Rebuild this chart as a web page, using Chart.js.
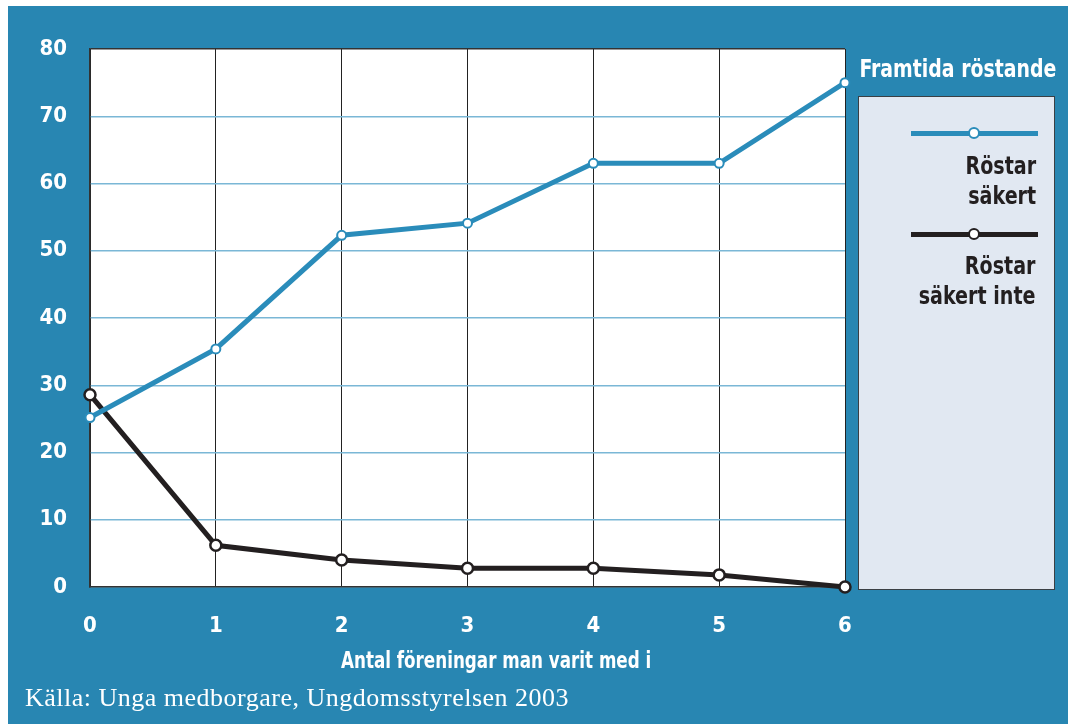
<!DOCTYPE html>
<html>
<head>
<meta charset="utf-8">
<script src="https://cdn.jsdelivr.net/npm/chart.js@4"></script>
<style>
  body { margin: 0; background: #fff; width: 1068px; height: 724px; overflow: hidden; position: relative; }
  #frame { position: absolute; left: 8px; top: 6px; right: 0; bottom: 0; background: #2886b2; }
  #canvas { position: absolute; left: 0; top: 0; }
  .cond { font-family: "DejaVu Sans Condensed", "Liberation Sans", sans-serif; font-weight: bold; white-space: nowrap; }
  #legend-title { position: absolute; right: 12px; top: 54px; color: #fff; font-size: 25px; transform: scaleX(0.84); transform-origin: right center; }
  #legend-box { position: absolute; left: 858px; top: 96px; width: 195px; height: 492px; background: #e1e8f2; border: 1.5px solid #3a3f44; }
  .sample { position: absolute; left: 52px; width: 127px; height: 5px; }
  .sample i { position: absolute; left: 57px; top: -4px; width: 8px; height: 8px; border-radius: 50%; background: #fff; border: 2px solid; }
  .ltext { position: absolute; right: 18px; text-align: right; color: #231f20; font-size: 25px; line-height: 30px; transform: scaleX(0.85); transform-origin: right center; }
  #xtitle { position: absolute; left: 341px; top: 647px; color: #fff; font-size: 23px; transform: scaleX(0.81); transform-origin: left center; }
  #source { position: absolute; left: 25px; top: 683px; color: #fff; font-family: "Liberation Serif", "DejaVu Serif", serif; font-size: 26px; letter-spacing: 0.5px; }
</style>
</head>
<body>
<div id="frame"></div>
<canvas id="canvas" width="1068" height="724"></canvas>
<div id="legend-title" class="cond">Framtida röstande</div>
<div id="legend-box">
  <div class="sample" style="top:34px;background:#2a8cba"><i style="border-color:#2a8cba"></i></div>
  <div class="ltext cond" style="top:54px">Röstar<br>säkert</div>
  <div class="sample" style="top:135px;background:#231f20"><i style="border-color:#231f20"></i></div>
  <div class="ltext cond" style="top:154px">Röstar<br>säkert inte</div>
</div>
<div id="xtitle" class="cond">Antal föreningar man varit med i</div>
<div id="source">Källa: Unga medborgare, Ungdomsstyrelsen 2003</div>
<script>
const foreningar = ["0", "1", "2", "3", "4", "5", "6"]
const rostarSakert = [25.2, 35.4, 52.3, 54.1, 63, 63, 75]
const rostarSakertInte = [28.6, 6.2, 4.0, 2.8, 2.8, 1.8, 0]
const yTicks = [0, 10, 20, 30, 40, 50, 60, 70, 80]

const BLUE = "#2a8cba"
const BLACK = "#231f20"
const tickFont = { family: '"DejaVu Sans Condensed", "Liberation Sans", sans-serif', weight: "bold", size: 22 }

const plotBg = {
  id: "plotBg",
  beforeDraw(chart) {
    const { ctx, chartArea: a } = chart
    ctx.save()
    ctx.fillStyle = "#fff"
    ctx.fillRect(a.left, a.top, a.right - a.left, a.bottom - a.top)
    ctx.restore()
  }
}

const canvas = document.getElementById("canvas")
new Chart(canvas, {
  type: "line",
  data: {
    labels: foreningar,
    datasets: [
      {
        label: "Röstar säkert",
        data: rostarSakert,
        borderColor: BLUE,
        borderWidth: 5,
        pointBackgroundColor: "#fff",
        pointBorderColor: BLUE,
        pointBorderWidth: 2,
        pointRadius: 4.5,
        clip: false
      },
      {
        label: "Röstar säkert inte",
        data: rostarSakertInte,
        borderColor: BLACK,
        borderWidth: 5,
        pointBackgroundColor: "#fff",
        pointBorderColor: BLACK,
        pointBorderWidth: 2.5,
        pointRadius: 5.5,
        clip: false
      }
    ]
  },
  options: {
    responsive: false,
    animation: false,
    devicePixelRatio: 1,
    layout: { padding: { top: 49, right: 223, left: 0, bottom: 0 } },
    plugins: {
      legend: { display: false },
      tooltip: { enabled: false }
    },
    scales: {
      x: {
        afterFit: scale => { scale.height = 137 },
        grid: { color: "#222", lineWidth: 1, drawTicks: false },
        border: { color: "#333", width: 1.5 },
        ticks: { color: "#fff", font: tickFont, padding: 26, maxRotation: 0 }
      },
      y: {
        min: 0,
        max: 80,
        afterFit: scale => { scale.width = 90 },
        afterBuildTicks: scale => { scale.ticks = yTicks.map(v => ({ value: v })) },
        grid: {
          color: c => (c.tick && c.tick.value === 80) ? "#333" : "#7ab7d6",
          lineWidth: 1.5,
          drawTicks: false
        },
        border: { color: "#333", width: 1.5 },
        ticks: { color: "#fff", font: tickFont, padding: 23 }
      }
    }
  },
  plugins: [plotBg]
})
</script>
</body>
</html>
